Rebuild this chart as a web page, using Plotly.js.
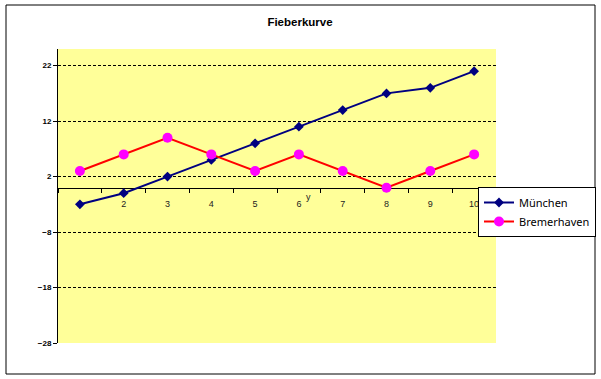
<!DOCTYPE html>
<html>
<head>
<meta charset="utf-8">
<script src="https://cdn.plot.ly/plotly-3.0.1.min.js"></script>
<style>html,body{margin:0;padding:0;background:#fff;}#chart{width:601px;height:379px;}</style>
</head>
<body>
<div id="chart"></div>
<script>
const categories = ['1','2','3','4','5','6','7','8','9','10'];
const muenchen = [-3, -1, 2, 5, 8, 11, 14, 17, 18, 21];
const bremerhaven = [3, 6, 9, 6, 3, 6, 3, 0, 3, 6];
const seriesNames = ['München', 'Bremerhaven'];
const chartTitle = 'Fieberkurve';
const xTitle = 'y';

const W = 601, H = 379;
const M = {l: 58, r: 105, t: 49, b: 36, autoexpand: false};
const pw = W - M.l - M.r, ph = H - M.t - M.b;
const yMin = -28, yMax = 25;
const px2x = p => (p - M.l) / pw;
const px2y = p => (H - M.b - p) / ph;

const traces = [
  {x: categories, y: muenchen, name: seriesNames[0], type: 'scatter', mode: 'lines+markers',
   line: {color: '#000080', width: 2}, marker: {symbol: 'diamond', size: 7.5, color: '#000080'}},
  {x: categories, y: bremerhaven, name: seriesNames[1], type: 'scatter', mode: 'lines+markers',
   line: {color: '#FF0000', width: 2}, marker: {symbol: 'circle', size: 10, color: '#FF00FF'}}
];

const layout = {
  width: W, height: H,
  margin: M,
  paper_bgcolor: '#ffffff',
  plot_bgcolor: '#FFFF99',
  showlegend: true,
  title: {text: chartTitle, x: 300 / W, xanchor: 'center', xref: 'container',
          y: 1 - 22 / H, yref: 'container', yanchor: 'middle',
          font: {family: 'Liberation Sans, Arial, sans-serif', size: 11.5, color: '#000', weight: 'bold'}},
  xaxis: {type: 'category', range: [-0.5, 9.5], anchor: 'free', position: (0 - yMin) / (yMax - yMin),
          showline: true, linecolor: '#000', linewidth: 1, showgrid: false, zeroline: false,
          ticks: 'outside', ticklen: 4, tickcolor: '#000', tickson: 'boundaries', ticklabelstandoff: 8,
          layer: 'below traces',
          tickfont: {family: 'Liberation Sans, Arial, sans-serif', size: 9, color: '#222'}},
  yaxis: {range: [yMin, yMax], tick0: yMin, dtick: 10, showline: true, linecolor: '#000', linewidth: 1,
          ticks: 'outside', ticklen: 4, tickcolor: '#000', zeroline: false,
          showgrid: true, gridcolor: '#000', gridwidth: 1, griddash: '3px,2px',
          tickfont: {family: 'Liberation Sans, Arial, sans-serif', size: 8, color: '#000', weight: 'bold'}},
  legend: {x: 478 / W, y: 1 - 187 / H, xref: 'container', yref: 'container', xanchor: 'left', yanchor: 'top',
           bgcolor: '#ffffff', bordercolor: '#000', borderwidth: 1,
           font: {family: 'Noto Sans, Open Sans, sans-serif', size: 11, color: '#000'},
           tracegroupgap: 0},
  annotations: [
    {text: xTitle, xref: 'paper', yref: 'paper', x: px2x(308), y: px2y(197), showarrow: false,
     font: {family: 'Liberation Sans, Arial, sans-serif', size: 9, color: '#222'}}
  ],
  shapes: [
    {type: 'rect', xref: 'paper', yref: 'paper', x0: px2x(6), x1: px2x(595), y0: px2y(374), y1: px2y(5),
     line: {color: '#000', width: 1}, fillcolor: 'rgba(0,0,0,0)', layer: 'above'}
  ]
};

Plotly.newPlot('chart', traces, layout, {displayModeBar: false, staticPlot: true});
</script>
</body>
</html>
